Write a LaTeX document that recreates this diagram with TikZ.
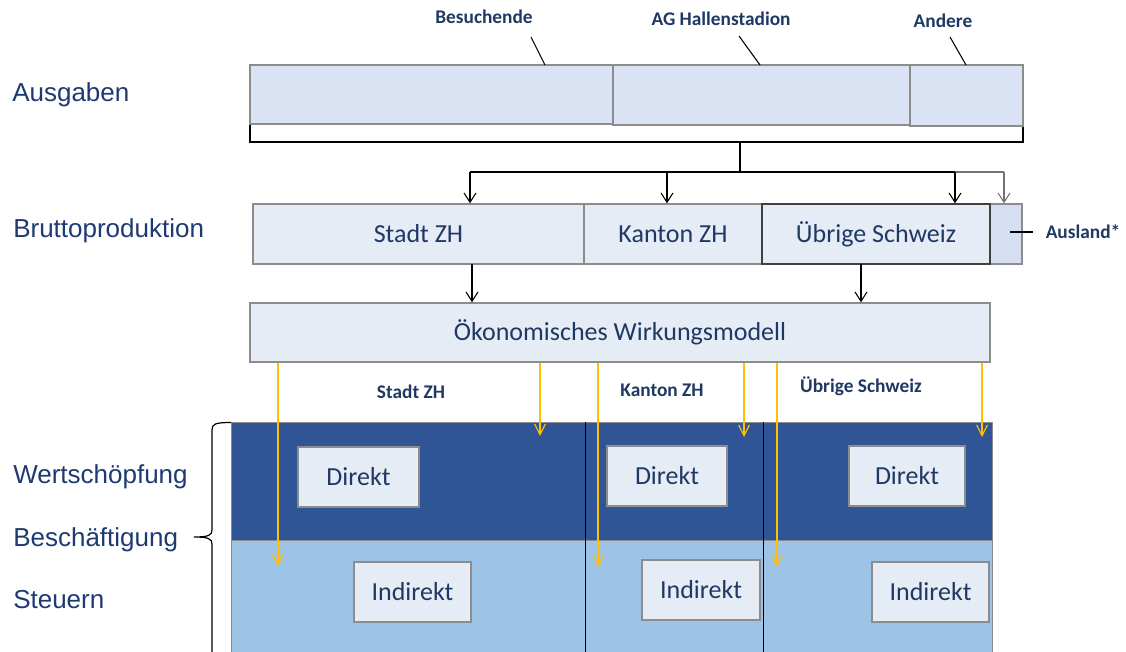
\documentclass[tikz,border=0pt]{standalone}
\usepackage{fontspec}
\setmainfont{Carlito}
\newfontfamily\arialf{Liberation Sans}
\usetikzlibrary{arrows.meta,fit}
\definecolor{navy}{HTML}{1F3864}
\definecolor{labnavy}{HTML}{1F3A73}
\definecolor{boxgray}{HTML}{8C8C8C}
\definecolor{topfill}{HTML}{DAE3F3}
\definecolor{midfill}{HTML}{E5ECF5}
\definecolor{auslfill}{HTML}{D6DFF1}
\definecolor{darkband}{HTML}{2F5597}
\definecolor{lightband}{HTML}{9DC3E6}
\definecolor{yarr}{HTML}{FFC000}
\tikzset{
  boxbase/.style={draw=boxgray, line width=1.1pt, inner sep=0pt},
  topbox/.style={boxbase, fill=topfill},
  midbox/.style={boxbase, fill=midfill},
  boxtext/.style={text=navy, font=\fontsize{19.5}{23}\selectfont, inner sep=0pt},
  smalllab/.style={text=navy, font=\bfseries\fontsize{14.5}{17}\selectfont, inner sep=0pt},
  sidelab/.style={text=labnavy, font=\arialf\fontsize{19.5}{23}\selectfont, inner sep=0pt, anchor=west},
  blarr/.style={line width=0.8pt, -{Straight Barb[length=7pt,width=9pt]}},
  yelarr/.style={draw=yarr, line width=0.9pt, -{Straight Barb[length=8pt,width=8pt]}},
}
\begin{document}
\begin{tikzpicture}[x=0.75pt,y=-0.75pt]
\useasboundingbox[fill=white] (0,0) rectangle (1126,651);

% ---------- side labels ----------
\node[sidelab] (lausg) at (12,95) {Ausgaben};
\node[sidelab] (lbrut) at (13,231) {Bruttoproduktion};
\node[sidelab] (lwert) at (13,477) {Wertschöpfung};
\node[sidelab] (lbesch) at (13,540) {Beschäftigung};
\node[sidelab] (lsteu) at (13,600) {Steuern};

% ---------- Ausgaben ----------
\node[draw=black, line width=0.9pt, fill=white, inner sep=0pt, fit={(250,65)(1023,142)}] (ausg) {};
\node[topbox, fit={(250,65)(613,124)}] (bes) {};
\node[topbox, fit={(613,65)(910,125)}] (agh) {};
\node[topbox, fit={(910,65)(1023,126)}] (and) {};

\node[smalllab] (tbes) at (484,17) {Besuchende};
\node[smalllab] (tagh) at (721,19) {AG Hallenstadion};
\node[smalllab] (tand) at (943,21) {Andere};
\coordinate (lb1) at (531,37); \coordinate (lb2) at (545,65);
\coordinate (la1) at (739,36); \coordinate (la2) at (760,65);
\coordinate (lc1) at (950,37); \coordinate (lc2) at (966,65);
\draw[line width=0.8pt] (lb1) -- (lb2);
\draw[line width=0.8pt] (la1) -- (la2);
\draw[line width=0.8pt] (lc1) -- (lc2);

% ---------- Bruttoproduktion ----------
\node[midbox, fit={(253,204)(584,264)}] (stadt) {};
\node[midbox, fit={(584,204)(762,264)}] (kanton) {};
\node[boxbase, fill=auslfill, fit={(990,204)(1022,264)}] (ausl) {};
\node[midbox, draw=black!75, fit={(762,204)(990,264)}] (uebr) {};
\node[boxtext] at (stadt.center) {Stadt ZH};
\node[boxtext] at (kanton.center) {Kanton ZH};
\node[boxtext] at (uebr.center) {Übrige Schweiz};
\node[smalllab] (tausl) at (1083,232) {Ausland*};
\coordinate (al1) at (1010,232); \coordinate (al2) at (1033,232);
\draw[line width=0.8pt] (al1) -- (al2);

% distribution connector
\coordinate (hub) at (740,172);
\coordinate (d1) at (470,172);
\coordinate (d2) at (667,172);
\coordinate (d3) at (955,172);
\coordinate (d4) at (1004,172);
\draw[line width=0.8pt] (ausg.south -| hub) -- (hub);
\draw[line width=0.8pt] (d1) -- (d3);
\draw[line width=0.8pt, draw=black!55] (d3) -- (d4);
\draw[blarr] (d1) -- (d1 |- stadt.north);
\draw[blarr] (d2) -- (d2 |- kanton.north);
\draw[blarr] (d3) -- (d3 |- uebr.north);
\draw[blarr, draw=black!55] (d4) -- (d4 |- ausl.north);

% ---------- Wirkungsmodell ----------
\node[midbox, fit={(250,303)(990,362)}] (wirk) {};
\node[boxtext] at (wirk.center) {Ökonomisches Wirkungsmodell};
\coordinate (s1) at (472,264);
\coordinate (s2) at (861,264);
\draw[blarr] (s1) -- (s1 |- wirk.north);
\draw[blarr] (s2) -- (s2 |- wirk.north);

\node[smalllab] (tst) at (411,392) {Stadt ZH};
\node[smalllab] (tka) at (662,390) {Kanton ZH};
\node[smalllab] (tub) at (861,386) {Übrige Schweiz};

% ---------- bands ----------
\node[fill=darkband, draw=black!45, line width=0.6pt, inner sep=0pt, fit={(231,422)(992,540)}] (dband) {};
\node[fill=lightband, draw=black!45, line width=0.6pt, inner sep=0pt, fit={(231,540)(992,660)}] (lband) {};
\coordinate (v1) at (585,422);
\coordinate (v2) at (763,422);
\draw[line width=0.7pt] (v1) -- (v1 |- lband.south);
\draw[line width=0.7pt] (v2) -- (v2 |- lband.south);

\node[midbox, fit={(298,447)(419,507)}] (dir1) {};
\node[midbox, fit={(607,446)(727,506)}] (dir2) {};
\node[midbox, fit={(849,446)(965,506)}] (dir3) {};
\node[midbox, fit={(354,562)(471,622)}] (ind1) {};
\node[midbox, fit={(642,560)(760,620)}] (ind2) {};
\node[midbox, fit={(872,562)(989,622)}] (ind3) {};
\foreach \n in {dir1,dir2,dir3}{\node[boxtext] at (\n.center) {Direkt};}
\foreach \n in {ind1,ind2,ind3}{\node[boxtext] at (\n.center) {Indirekt};}

% brace
\draw[line width=0.9pt] (231,422.5) .. controls (215,422.5) and (212,424) .. (212,430)
  -- (212,530) .. controls (212,535) and (209,537) .. (194,537)
  .. controls (209,537) and (212,539) .. (212,544) -- (212,660);

% yellow arrows
\coordinate (y1) at (278,566);
\coordinate (y2) at (540,436);
\coordinate (y3) at (598,567);
\coordinate (y4) at (744,437);
\coordinate (y5) at (777,567);
\coordinate (y6) at (982,437);
\foreach \c in {y1,y2,y3,y4,y5,y6}{
  \draw[yelarr] (wirk.south -| \c) -- (\c);
}
\end{tikzpicture}
\end{document}
